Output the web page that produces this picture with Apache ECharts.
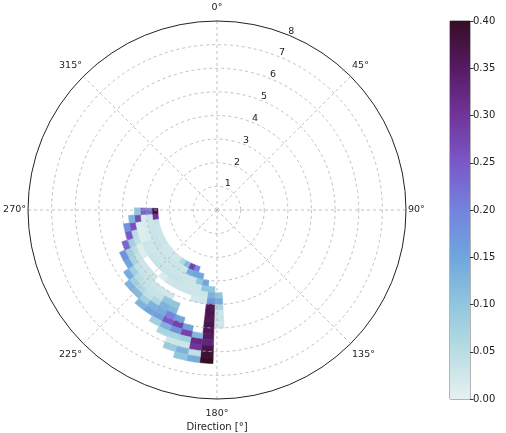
<!DOCTYPE html>
<html><head><meta charset="utf-8">
<script src="https://cdn.jsdelivr.net/npm/echarts@6/dist/echarts.min.js"></script>
<style>html,body{margin:0;padding:0;background:#fff}#c{width:506px;height:433px}</style>
</head><body><div id="c"></div>
<script>
const _ = null;
// direction bin centres [deg] and radial bin starts
const dirBins = [179,184,189,194,199,204,209,214,219,224,229,234,239,244,249,254,259,264,269];
const rBins = [2.5,2.75,3.0,3.25,3.5,3.75,4.0,4.25,4.5,4.75,5.0,5.25,5.5,5.75,6.0,6.25];
const dirStep = 5, rStep = 0.25;
// probability per cell, one row per direction bin (index follows rBins)
const d179 = [_,_,_,_,0.10,0.14,0.07,0.03,0.035,0.025,_,_,_,_,_,_];
const d184 = [_,_,_,0.10,0.13,0.17,0.36,0.37,0.36,0.37,0.36,0.35,0.33,0.37,0.39,0.40];
const d189 = [_,_,0.15,0.10,0.03,0.025,_,_,_,_,_,0.12,0.32,0.30,0.04,0.14];
const d194 = [_,0.15,0.10,0.03,0.03,0.02,_,_,_,_,0.16,0.28,0.08,0.03,0.13,0.10];
const d199 = [0.20,0.15,0.03,0.03,0.03,_,_,_,_,0.15,0.28,0.18,0.07,0.03,0.09,_];
const d204 = [0.28,0.14,0.03,0.03,0.03,_,_,0.10,0.12,0.20,0.25,0.13,0.07,_,_,_];
const d209 = [0.12,0.03,0.03,0.035,0.03,_,0.025,0.10,0.13,0.14,0.16,0.08,_,_,_,_];
const d214 = [0.06,0.03,0.03,0.035,0.03,_,0.025,0.035,0.06,0.13,0.15,_,_,_,_,_];
const d219 = [0.025,0.03,0.03,0.035,0.015,_,0.03,0.035,0.04,0.08,0.13,_,_,_,_,_];
const d224 = [0.025,0.03,0.03,0.035,_,0.025,0.035,0.04,0.06,0.12,_,_,_,_,_,_];
const d229 = [0.025,0.03,0.03,0.035,_,0.03,0.035,0.05,0.08,0.13,_,_,_,_,_,_];
const d234 = [0.025,0.03,0.03,0.035,_,0.03,0.04,0.08,0.14,_,_,_,_,_,_,_];
const d239 = [0.03,0.035,0.03,0.03,0.01,0.035,0.07,0.15,_,_,_,_,_,_,_,_];
const d244 = [0.03,0.035,0.025,0.03,0.01,0.05,0.08,0.18,_,_,_,_,_,_,_,_];
const d249 = [0.03,0.035,0.015,0.01,0.04,0.08,0.23,_,_,_,_,_,_,_,_,_];
const d254 = [0.03,0.035,0.015,0.01,0.05,0.25,_,_,_,_,_,_,_,_,_,_];
const d259 = [0.035,0.03,0.015,0.01,0.26,0.18,_,_,_,_,_,_,_,_,_,_];
const d264 = [0.30,0.03,0.015,0.27,0.13,_,_,_,_,_,_,_,_,_,_,_];
const d269 = [0.38,0.22,0.24,0.10,_,_,_,_,_,_,_,_,_,_,_,_];
const rows = [d179,d184,d189,d194,d199,d204,d209,d214,d219,d224,d229,d234,d239,d244,d249,d254,d259,d264,d269];
// tick labels
const dirTicks = [0,45,90,135,180,225,270,315];
const radTicks = [1,2,3,4,5,6,7,8];
const cbarTicks = [0,0.05,0.10,0.15,0.20,0.25,0.30,0.35,0.40];
const cmap = ['#e6f1f1','#b9dde3','#92c6dd','#6fa6dd','#7483dd','#7a58c8','#71349a','#561b64','#360e24'];

const cells = [];
rows.forEach((row, i) => row.forEach((v, j) => { if (v !== null) cells.push([rBins[j], dirBins[i], v]); }));

const font = 'DejaVu Sans';
const chart = echarts.init(document.getElementById('c'), null, {renderer: 'canvas'});
const lbl = (sz) => ({fontFamily: font, fontSize: sz, color: '#222'});
const gridColors = ['#b0b0b0','#b0b0b0','#b0b0b0','#b0b0b0','#b0b0b0','#b0b0b0','#b0b0b0','#b0b0b0','rgba(0,0,0,0)'];

const option = {
  animation: false,
  textStyle: {fontFamily: font},
  polar: [{center: [217, 210], radius: 189}, {center: [217, 210], radius: 189}],
  angleAxis: [{
    polarIndex: 0, type: 'value', min: 0, max: 360, interval: 45, startAngle: 90, clockwise: true,
    axisLine: {lineStyle: {color: '#222', width: 1}},
    axisTick: {show: false},
    axisLabel: {
      margin: 2,
      formatter: v => {
        if (dirTicks.indexOf(v) < 0) return '';
        const t = v + '°';
        if (v === 0) return '{t|' + t + '}';
        if (v === 180) return '{b|' + t + '}';
        if (v === 45 || v === 315) return '{d|' + t + '}';
        if (v === 135 || v === 225) return '{e|' + t + '}';
        return '{h|' + t + '}';
      },
      rich: {
        t: Object.assign(lbl(9.5), {padding: [0, 0, 6, 0]}),
        b: Object.assign(lbl(9.5), {padding: [8, 0, 0, 0]}),
        d: Object.assign(lbl(9.5), {padding: [0, 0, 4, 0]}),
        e: Object.assign(lbl(9.5), {padding: [4, 0, 0, 0]}),
        h: lbl(9.5)
      }
    },
    splitLine: {lineStyle: {color: '#b0b0b0', width: 0.8, type: [3, 3]}}
  }, {
    polarIndex: 1, type: 'value', min: 0, max: 360, startAngle: 67.5, clockwise: true, show: false
  }],
  radiusAxis: [{
    polarIndex: 0, type: 'value', min: 0, max: 8, interval: 1,
    axisLine: {show: false}, axisTick: {show: false}, axisLabel: {show: false},
    splitLine: {lineStyle: {color: gridColors, width: 0.8, type: [3, 3]}}
  }, {
    polarIndex: 1, type: 'value', min: 0, max: 8, interval: 1,
    axisLine: {show: false}, axisTick: {show: false}, splitLine: {show: false},
    axisLabel: Object.assign(lbl(9.5), {margin: -2, align: 'center', verticalAlign: 'bottom',
      formatter: v => radTicks.indexOf(v) >= 0 ? String(v) : ''})
  }],
  grid: {left: 450, top: 21, width: 20, height: 378, show: true, borderColor: '#444', borderWidth: 0.8},
  xAxis: {type: 'category', data: ['cb'], show: false},
  yAxis: {
    type: 'value', min: 0, max: 0.4, interval: 0.05, position: 'right',
    axisLine: {show: false}, splitLine: {show: false},
    axisTick: {show: true, length: 3.5, lineStyle: {color: '#333'}},
    axisLabel: Object.assign(lbl(10), {margin: 3, formatter: v => {
      const k = cbarTicks.findIndex(t => Math.abs(t - v) < 1e-9);
      return k >= 0 ? cbarTicks[k].toFixed(2) : '';
    }})
  },
  visualMap: {show: false, type: 'continuous', min: 0, max: 0.4, dimension: 2, seriesIndex: 0, inRange: {color: cmap}},
  series: [{
    type: 'custom', coordinateSystem: 'polar', polarIndex: 0, z: -1,
    dimensions: ['r', 'dir', 'p'], encode: {radius: 0, angle: 1},
    data: cells,
    renderItem: (params, api) => {
      const r0 = api.value(0), a = api.value(1);
      const r1 = r0 + rStep, a0 = a - dirStep / 2, a1 = a + dirStep / 2;
      const pts = [], N = 5;
      for (let i = 0; i <= N; i++) { const p = api.coord([r0, a0 + (a1 - a0) * i / N]); pts.push([p[0], p[1]]); }
      for (let i = N; i >= 0; i--) { const p = api.coord([r1, a0 + (a1 - a0) * i / N]); pts.push([p[0], p[1]]); }
      const c = api.visual('color');
      return {type: 'polygon', shape: {points: pts}, style: {fill: c, stroke: c, lineWidth: 0.6}};
    }
  }, {
    type: 'bar', xAxisIndex: 0, yAxisIndex: 0, data: [0.4], barWidth: '100%', silent: true,
    itemStyle: {color: new echarts.graphic.LinearGradient(0, 1, 0, 0,
      cmap.map((c, i) => ({offset: i / (cmap.length - 1), color: c})))}
  }],
  graphic: [{type: 'text', x: 217, y: 427, style: {text: 'Direction [°]', font: '10px "DejaVu Sans"', fill: '#222', align: 'center', verticalAlign: 'middle'}}]
};
chart.setOption(option);
</script></body></html>
